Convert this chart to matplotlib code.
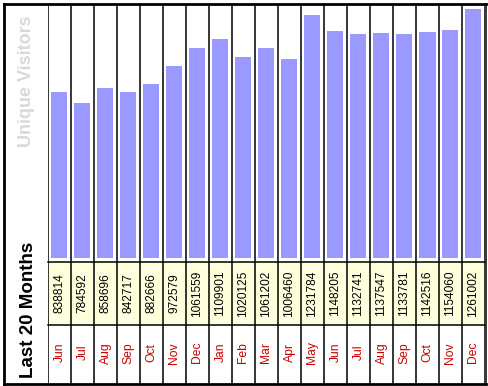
import matplotlib
matplotlib.use("Agg")
import matplotlib.pyplot as plt
import numpy as np

plt.rcParams['font.family'] = ['Liberation Sans', 'DejaVu Sans']

months = ["Jun", "Jul", "Aug", "Sep", "Oct", "Nov", "Dec", "Jan", "Feb", "Mar",
          "Apr", "May", "Jun", "Jul", "Aug", "Sep", "Oct", "Nov", "Dec"]
visitors = [838814, 784592, 858696, 842717, 882666, 972579, 1061559, 1109901,
            1020125, 1061202, 1006460, 1231784, 1148205, 1132741, 1137547,
            1133781, 1142516, 1154060, 1261002]
title_top = "Unique Visitors"
title_bottom = "Last 20 Months"

W, H = 489, 386
fig = plt.figure(figsize=(W / 100, H / 100), dpi=100)
fig.patch.set_facecolor("white")


def rect(x0, y0, x1, y1):
    """pixel box (top-left origin) -> figure rect"""
    return [x0 / W, 1 - y1 / H, (x1 - x0) / W, (y1 - y0) / H]


n = len(visitors)
xs = np.arange(n)
XL = (-0.5, n - 0.5)
LW = 1.1

# bars
ax_bar = fig.add_axes(rect(48, 4, 485, 258))
ax_bar.bar(xs, visitors, width=16 / 23, color="#9999FF", edgecolor="none")
ax_bar.set_xlim(*XL)
ax_bar.set_ylim(0, max(visitors) * 1.02)
ax_bar.axis("off")

# value row
ax_val = fig.add_axes(rect(48, 262, 485, 325))
ax_val.set_facecolor("#FFFFDD")
ax_val.set_xlim(*XL)
ax_val.set_ylim(0, 1)
ax_val.set_xticks([])
ax_val.set_yticks([])
for s in ["left", "right"]:
    ax_val.spines[s].set_visible(False)
for s in ["top", "bottom"]:
    ax_val.spines[s].set_linewidth(LW)
for i, v in enumerate(visitors):
    ax_val.text(i, 0.5, str(v), rotation=90, ha="center", va="center",
                fontsize=8.6, color="black")

# month row
ax_mon = fig.add_axes(rect(48, 325, 485, 384))
ax_mon.set_xlim(*XL)
ax_mon.set_ylim(0, 1)
ax_mon.axis("off")
for i, m in enumerate(months):
    ax_mon.text(i, 0.53, m, rotation=90, ha="center", va="center",
                fontsize=8.7, color="#CC0000")

# column lines
ax_grid = fig.add_axes(rect(48, 4, 485, 384))
ax_grid.set_xlim(*XL)
ax_grid.set_ylim(0, 1)
ax_grid.axis("off")
ax_grid.patch.set_alpha(0)
ax_grid.vlines(np.arange(n + 1) - 0.5, 0, 1, color="black", lw=LW)

# label column + outer frame
ax_frame = fig.add_axes(rect(4, 4, 486, 384))
ax_frame.patch.set_alpha(0)
ax_frame.set_xticks([])
ax_frame.set_yticks([])
for s in ["left", "top", "bottom"]:
    ax_frame.spines[s].set_linewidth(2.0)
ax_frame.spines["right"].set_linewidth(LW)

ax_lab = fig.add_axes(rect(4, 4, 48, 384))
ax_lab.axis("off")
ax_lab.patch.set_alpha(0)
ax_lab.set_xlim(0, 1)
ax_lab.set_ylim(0, 1)
fig.text(27 / W, 1 - 15 / H, title_top, rotation=90, ha="center", va="top",
         fontsize=13, fontweight="bold", color="#D9D9D9")
fig.text(29 / W, 1 - 378 / H, title_bottom, rotation=90, ha="center", va="bottom",
         fontsize=13.5, fontweight="bold", color="black")

fig.savefig("out.png", dpi=100, facecolor="white")
